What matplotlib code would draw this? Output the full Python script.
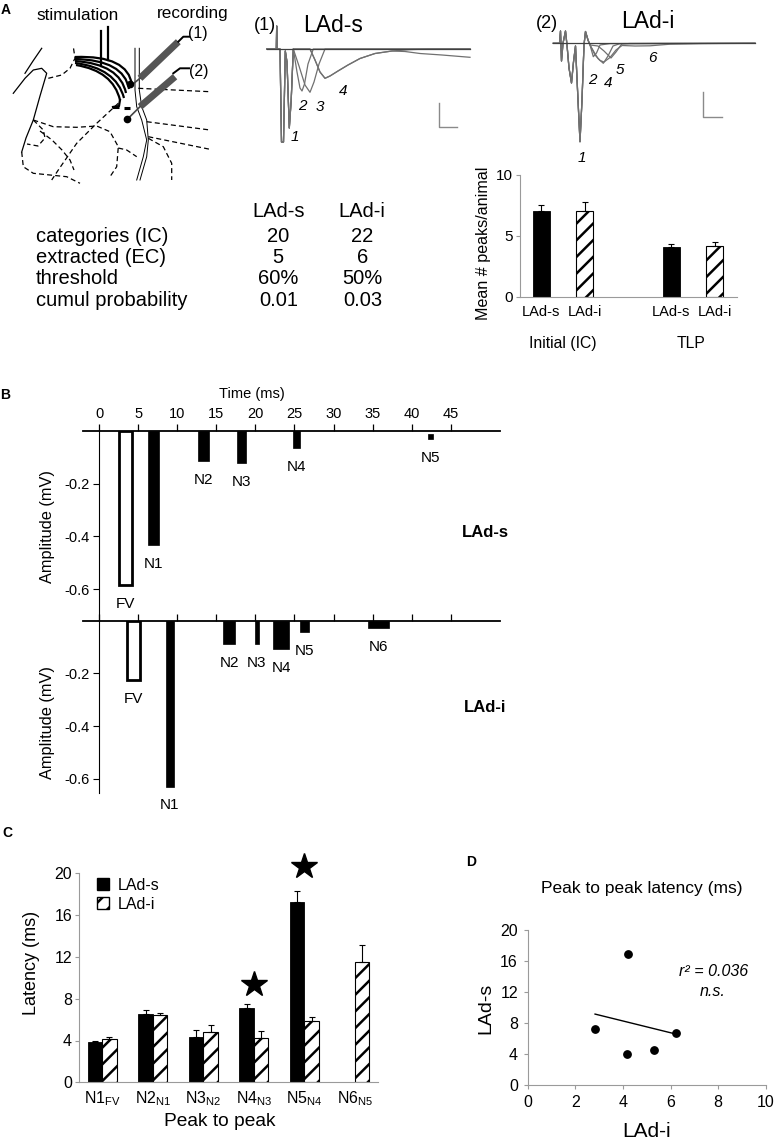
import numpy as np
import matplotlib
matplotlib.use('Agg')
import matplotlib.pyplot as plt
from matplotlib.patches import Patch, PathPatch
from matplotlib.path import Path
from matplotlib import font_manager

plt.rcParams['font.family'] = ['Liberation Sans', 'DejaVu Sans']
plt.rcParams['axes.unicode_minus'] = False
plt.rcParams['mathtext.fontset'] = 'custom'
plt.rcParams['mathtext.rm'] = 'Liberation Sans'
plt.rcParams['mathtext.it'] = 'Liberation Sans:italic'
plt.rcParams['mathtext.bf'] = 'Liberation Sans:bold'
plt.rcParams['hatch.linewidth'] = 1.8
plt.rcParams['hatch.color'] = 'black'

_names = {f.name for f in font_manager.fontManager.ttflist}
NARROW = 'Liberation Sans Narrow' if 'Liberation Sans Narrow' in _names else 'Liberation Sans'
BSIZE = 11.5 if NARROW == 'Liberation Sans Narrow' else 10.5
GREY = '#9a9a9a'

# ---------------- DATA ----------------
# Panel A table
table_rows = ['categories (IC)', 'extracted (EC)', 'threshold', 'cumul probability']
table_cols = ['LAd-s', 'LAd-i']
table_lads = ['20', '5', '60%', '0.01']
table_ladi = ['22', '6', '50%', '0.03']

# Panel A bar chart
peak_groups = ['Initial (IC)', 'TLP']
peaks_lads = [7.05, 4.05]
peaks_lads_err = [0.45, 0.27]
peaks_ladi = [7.05, 4.2]
peaks_ladi_err = [0.75, 0.3]

# Panel B
lads_names = ['FV', 'N1', 'N2', 'N3', 'N4', 'N5']
lads_time = [3.4, 6.95, 13.35, 18.2, 25.3, 42.4]
lads_width = [1.65, 1.4, 1.4, 1.2, 0.9, 0.65]
lads_amp = [-0.585, -0.433, -0.113, -0.123, -0.065, -0.03]
lads_start = [0, 0, 0, 0, 0, -0.012]

ladi_names = ['FV', 'N1', 'N2', 'N3', 'N4', 'N5', 'N6']
ladi_time = [4.43, 9.06, 16.65, 20.2, 23.3, 26.3, 35.7]
ladi_width = [1.7, 1.06, 1.6, 0.47, 2.0, 1.15, 2.7]
ladi_amp = [-0.225, -0.63, -0.09, -0.09, -0.109, -0.042, -0.029]
ladi_start = [0, 0, 0, 0, 0, 0, 0]

time_ticks = list(range(0, 50, 5))
amp_ticks = [-0.6, -0.4, -0.2]

# Panel C
pp_labels = [r'N1$_{\rm FV}$', r'N2$_{\rm N1}$', r'N3$_{\rm N2}$',
             r'N4$_{\rm N3}$', r'N5$_{\rm N4}$', r'N6$_{\rm N5}$']
lat_lads = [3.85, 6.55, 4.35, 7.15, 17.3, np.nan]
lat_lads_err = [0.15, 0.4, 0.65, 0.35, 1.0, np.nan]
lat_ladi = [4.15, 6.4, 4.85, 4.2, 5.9, 11.5]
lat_ladi_err = [0.15, 0.2, 0.65, 0.75, 0.35, 1.6]
sig_groups = [3, 4]
sig_y = [9.4, 20.7]

# Panel D
d_ladi = [2.83, 4.2, 4.16, 5.32, 6.23]
d_lads = [7.18, 16.86, 4.0, 4.52, 6.67]
d_stat_text = ['r\u00b2 = 0.036', 'n.s.']

# Panel A drawings (pixel coordinates of the schematic / traces)
solid_paths = [
    [(41.7, 48.3), (33, 61), (25, 73.3)],
    [(13.3, 93.3), (19, 86), (25, 78.3), (33.3, 70), (41.7, 68.3), (46.7, 73.3),
     (40, 96), (33.3, 120), (26, 138), (21.7, 152)],
]
dashed_paths = [
    [(48.3, 78.3), (61.7, 75), (70, 68.3), (75, 58.3), (73.3, 46.7)],
    [(118.3, 103.3), (96.7, 123.3), (76.7, 143.3), (58.3, 170), (51.7, 180)],
    [(33.3, 120), (53.3, 126.7), (76.7, 127.3), (96.7, 126), (110, 131.7),
     (118.3, 146.7), (116.7, 166.7), (110, 176.7)],
    [(33.3, 120), (43.3, 130), (45, 138), (38, 146), (27, 144)],
    [(40, 131), (52, 140), (62, 150), (70, 160), (74, 170)],
    [(21.7, 152), (23.3, 166.7), (33.3, 173.3), (50, 175), (66.7, 176.7), (80, 183.3)],
    [(148.3, 138.3), (163.3, 146.7), (171.7, 163.3), (171.7, 180)],
    [(118.3, 148), (126.7, 150), (136.7, 156.7)],
    [(138.3, 88.3), (210, 91.7)],
    [(146.7, 121.7), (210, 130)],
    [(148.3, 136.7), (210, 149.3)],
]
capsule_paths = [
    [(135, 48.3), (135, 90), (136.7, 106.7), (141.7, 120), (146.7, 140), (143.3, 156.7), (136.7, 180)],
    [(139.3, 48.3), (139.3, 90), (141.7, 106.7), (146.7, 120), (148.3, 140), (146.7, 156.7), (140, 180)],
]
fibers = [
    [(75, 57), (128, 55), (132, 85)],
    [(75, 59), (124, 60), (129, 89)],
    [(75, 61), (120, 64), (126, 93)],
    [(75, 63), (116, 68), (124, 98)],
    [(76, 65), (113, 71), (120, 100)],
]
fiber_hook = [(120, 100), (119, 106), (113, 107)]
fiber_stubs = [[(112, 106.7), (119, 106.7)], [(124, 108.3), (130, 108.3)]]
stim_wires = [[(101, 31), (101, 66)], [(108.3, 27), (108.3, 60)]]
electrodes = [[(178.3, 41.7), (140, 78.3)], [(175, 76.7), (140, 106.7)]]
electrode_tips = [[(140, 78.3), (131.7, 85)], [(140, 106.7), (128.3, 118.3)]]
leaders = [[(178.3, 41.7), (183.3, 36.7), (189, 36.7)], [(173.3, 73.3), (180, 68.3), (189, 68.3)]]
rec_dots = [(130, 84), (126.7, 119)]

lads_common = [(266.7, 49), (276.3, 49), (276.7, 26), (277.3, 49), (280, 49), (281.5, 142),
               (283.5, 142), (285.3, 51), (287, 62), (289.3, 128), (291.2, 100), (293.3, 49)]
lads_branches = [
    [(293.3, 49), (297, 72), (300, 88), (302, 91), (304.5, 84), (308, 64), (313.3, 49), (470, 49)],
    [(293.3, 49), (299, 66), (305, 85), (310, 92.3), (314, 82), (319, 64), (325, 49), (470, 49)],
    [(293.3, 49), (310, 49), (315, 60), (320, 72), (325, 78.3), (330, 76), (338, 71), (348, 65),
     (360, 58.5), (375, 53.5), (392, 51), (410, 49.6), (430, 49), (470, 49)],
    [(293.3, 49), (310, 49), (315, 60), (320, 72), (325, 78.3), (330, 76), (338, 71), (348, 65),
     (360, 58.5), (375, 53.5), (392, 51), (405, 51.5), (420, 53.5), (442, 55), (470, 57.3)],
]
ladi_common = [(553.3, 43.3), (559.5, 43.3), (560.5, 31), (561.5, 61), (563, 43.3), (565.5, 31),
               (567, 45), (569, 68), (571.5, 83), (573.5, 62), (575.5, 46), (578, 100),
               (580, 141.7), (582, 100), (584, 45), (585.5, 31.5), (588, 40), (590, 45)]
ladi_branches = [
    [(590, 45), (593.3, 56.7), (596.5, 53), (600, 45), (610, 43.6), (755, 43.3)],
    [(590, 45), (594, 52), (598, 58.5), (603.3, 63.3), (608, 56), (613, 46), (620, 43.6), (755, 43.3)],
    [(590, 45), (598, 46), (604, 51), (611, 58), (616, 52), (621.7, 44), (630, 43.5), (755, 43.3)],
    [(590, 45), (595, 55), (600, 60.5), (604, 62), (610, 57.5), (616, 50), (622, 45.5), (635, 46),
     (650, 45.8), (670, 44.2), (700, 43.6), (755, 43.3)],
]
scalebars = [[(439, 103.3), (439, 126.7), (456.7, 126.7)],
             [(703.3, 91.7), (703.3, 116.7), (721.7, 116.7)]]
lads_peak_labels = [('1', 295, 136.7), ('2', 302.3, 105.7), ('3', 320, 106.7), ('4', 343.3, 91)]
ladi_peak_labels = [('1', 581.7, 158.3), ('2', 592.3, 80), ('4', 608.3, 83.3), ('5', 620, 70), ('6', 652.7, 58.3)]

# ---------------- FIGURE ----------------
W, H = 778, 1143
fig = plt.figure(figsize=(W / 100, H / 100), dpi=100)


def fax(x0, y0, x1, y1):
    a = fig.add_axes([x0 / W, 1 - y1 / H, (x1 - x0) / W, (y1 - y0) / H])
    a.set_facecolor('none')
    return a


axd = fig.add_axes([0, 0, 1, 1])
axd.set_xlim(0, W)
axd.set_ylim(H, 0)
axd.axis('off')
axd.set_facecolor('none')


def xy(p):
    a = np.array(p)
    return a[:, 0], a[:, 1]


# --- schematic ---
for p in solid_paths:
    axd.plot(*xy(p), color='black', lw=0.9)
for p in dashed_paths:
    axd.plot(*xy(p), color='black', lw=0.9, ls=(0, (4, 2.5)))
for p in capsule_paths:
    axd.plot(*xy(p), color='black', lw=0.7)
for f in fibers:
    pp = Path(f, [Path.MOVETO, Path.CURVE3, Path.CURVE3])
    axd.add_patch(PathPatch(pp, fc='none', ec='black', lw=1.6))
axd.plot(*xy(fiber_hook), color='black', lw=1.6)
for p in fiber_stubs:
    axd.plot(*xy(p), color='black', lw=2.2, solid_capstyle='butt')
for p in stim_wires:
    axd.plot(*xy(p), color='black', lw=1.6)
for p in electrodes:
    axd.plot(*xy(p), color='#555555', lw=5, solid_capstyle='butt')
for p in electrode_tips:
    axd.plot(*xy(p), color='#444444', lw=1.2)
for p in leaders:
    axd.plot(*xy(p), color='black', lw=1.4)
for (x, y) in rec_dots:
    axd.plot(x, y, 'o', color='black', ms=4.5)

axd.text(6, 10, 'A', fontsize=10, fontweight='bold', ha='center', va='center')
axd.text(77.5, 15, 'stimulation', fontsize=12.3, ha='center', va='center')
axd.text(193, 13.3, 'recording', fontsize=12.3, ha='center', va='center')
axd.text(198.3, 33.3, '(1)', fontsize=11.5, ha='center', va='center')
axd.text(198.3, 71.7, '(2)', fontsize=11.5, ha='center', va='center')

# --- traces ---
for br in lads_branches:
    axd.plot(*xy(lads_common + br), color='#707070', lw=0.9)
axd.plot([266.7, 470], [49, 49], color='#404040', lw=0.9)
for br in ladi_branches:
    axd.plot(*xy(ladi_common + br), color='#707070', lw=0.9)
axd.plot([553.3, 755], [43.3, 43.3], color='#404040', lw=0.9)
for sb in scalebars:
    axd.plot(*xy(sb), color='#8a8a8a', lw=1.0)
for (s, x, y) in lads_peak_labels + ladi_peak_labels:
    axd.text(x, y, s, fontsize=11, style='italic', ha='center', va='center')
axd.text(265, 25, '(1)', fontsize=13, ha='center', va='center')
axd.text(333.3, 25, 'LAd-s', fontsize=16.5, ha='center', va='center')
axd.text(546.7, 23.3, '(2)', fontsize=13, ha='center', va='center')
axd.text(648.3, 21.7, 'LAd-i', fontsize=16.5, ha='center', va='center')

# --- table ---
axd.text(278.3, 216.7, table_cols[0], fontsize=14.5, ha='center', va='baseline')
axd.text(361.7, 216.7, table_cols[1], fontsize=14.5, ha='center', va='baseline')
row_base = [241.5, 263, 284.5, 306]
for i, r in enumerate(table_rows):
    axd.text(36, row_base[i], r, fontsize=14.5, ha='left', va='baseline')
    axd.text(278.3, row_base[i], table_lads[i], fontsize=14.5, ha='center', va='baseline')
    axd.text(362.5, row_base[i], table_ladi[i], fontsize=14.5, ha='center', va='baseline')

# --- bar chart A ---
axA = fax(520, 175, 736.7, 296.7)
pos_s = [0, 3]
pos_i = [1, 4]
axA.bar(pos_s, peaks_lads, 0.4, color='black', edgecolor='black', lw=0.6)
axA.bar(pos_i, peaks_ladi, 0.4, color='white', edgecolor='black', hatch='//', lw=0.8)
axA.errorbar(pos_s, peaks_lads, yerr=[np.zeros(2), peaks_lads_err], fmt='none',
             ecolor='black', elinewidth=0.8, capsize=2, capthick=0.8)
axA.errorbar(pos_i, peaks_ladi, yerr=[np.zeros(2), peaks_ladi_err], fmt='none',
             ecolor='black', elinewidth=0.8, capsize=2, capthick=0.8)
axA.set_xlim(-0.49, 4.51)
axA.set_ylim(0, 10)
axA.set_yticks([0, 5, 10])
axA.set_xticks([])
for s in ['top', 'right']:
    axA.spines[s].set_visible(False)
for s in ['left', 'bottom']:
    axA.spines[s].set_color(GREY)
    axA.spines[s].set_linewidth(0.8)
axA.tick_params(axis='y', length=3, color=GREY, labelsize=11, pad=2)
for p in pos_s:
    axA.text(p, -0.123, table_cols[0], transform=axA.get_xaxis_transform(),
             fontsize=10.5, ha='center', va='center')
for p in pos_i:
    axA.text(p, -0.123, table_cols[1], transform=axA.get_xaxis_transform(),
             fontsize=10.5, ha='center', va='center')
axA.text(0.5, -0.383, peak_groups[0], transform=axA.get_xaxis_transform(),
         fontsize=11.3, ha='center', va='center')
axA.text(3.45, -0.383, peak_groups[1], transform=axA.get_xaxis_transform(),
         fontsize=11.3, ha='center', va='center')
axd.text(484, 243, 'Mean # peaks/animal', fontsize=11.6, rotation=90, ha='center', va='center')

# --- panel B ---
axd.text(5, 395, 'B', fontsize=10, fontweight='bold', ha='center', va='center')
axd.text(252, 394, 'Time (ms)', fontsize=BSIZE, family=NARROW, ha='center', va='center')


def panel_b(box, names, times, widths, amps, starts, ylo, toplabels, tag, tag_y):
    ax = fax(*box)
    heights = [a - s for a, s in zip(amps, starts)]
    for n, t, w, h, s in zip(names, times, widths, heights, starts):
        if n == 'FV':
            ax.bar(t, h, w, bottom=s, color='white', edgecolor='black', lw=2.0, zorder=3)
        else:
            ax.bar(t, h, w, bottom=s, color='black', edgecolor='black', lw=0.5, zorder=3)
    for n, t, a in zip(names, times, amps):
        ax.annotate(n, (t, a), xytext=(0, -13.5), textcoords='offset points',
                    ha='center', va='center', fontsize=BSIZE + 0.5, family=NARROW)
    ax.set_xlim(-2.05, 51.3)
    ax.set_ylim(ylo, 0)
    ax.spines['left'].set_position(('data', 0))
    ax.spines['left'].set_linewidth(0.8)
    ax.spines['top'].set_linewidth(1.3)
    ax.spines['bottom'].set_visible(False)
    ax.spines['right'].set_visible(False)
    ax.xaxis.tick_top()
    ax.set_xticks(time_ticks)
    ax.tick_params(axis='x', direction='out', length=5, width=0.9, pad=2,
                   labeltop=toplabels, labelsize=BSIZE)
    ax.set_yticks(amp_ticks)
    ax.set_yticklabels(['%.1f' % v for v in amp_ticks])
    ax.tick_params(axis='y', direction='out', length=4, width=0.8, pad=3, labelsize=BSIZE)
    for lab in ax.get_xticklabels() + ax.get_yticklabels():
        lab.set_family(NARROW)
    axd.text(485, tag_y, tag, fontsize=12, fontweight='bold', family=NARROW,
             ha='center', va='center')
    return ax


axB1 = panel_b((83, 431, 500, 620.7), lads_names, lads_time, lads_width, lads_amp,
               lads_start, -0.72, True, 'LAd-s', 532.7)
axB2 = panel_b((83, 620.7, 500, 793), ladi_names, ladi_time, ladi_width, ladi_amp,
               ladi_start, -0.654, False, 'LAd-i', 707)
axd.text(48, 527, 'Amplitude (mV)', fontsize=BSIZE + 1.3, family=NARROW, rotation=90, ha='center', va='center')
axd.text(48, 723, 'Amplitude (mV)', fontsize=BSIZE + 1.3, family=NARROW, rotation=90, ha='center', va='center')

# --- panel C ---
axd.text(7, 833, 'C', fontsize=10, fontweight='bold', ha='center', va='center')
axC = fax(79, 873.3, 377.7, 1082.3)
xg = np.arange(len(pp_labels))
bw = 0.285
axC.bar(xg - bw / 2, lat_lads, bw, color='black', edgecolor='black', lw=0.6)
axC.bar(xg + bw / 2, lat_ladi, bw, color='white', edgecolor='black', hatch='//', lw=0.8)
axC.errorbar(xg - bw / 2, lat_lads, yerr=[np.zeros(len(xg)), lat_lads_err], fmt='none',
             ecolor='black', elinewidth=0.8, capsize=2, capthick=0.8)
axC.errorbar(xg + bw / 2, lat_ladi, yerr=[np.zeros(len(xg)), lat_ladi_err], fmt='none',
             ecolor='black', elinewidth=0.8, capsize=2, capthick=0.8)
axC.plot(xg[sig_groups], sig_y, ls='none', marker='*', ms=19, color='black', clip_on=False)
axC.set_xlim(-0.46, 5.45)
axC.set_ylim(0, 20)
axC.set_yticks(range(0, 21, 4))
axC.set_xticks(xg)
axC.set_xticklabels(pp_labels)
for s in ['top', 'right']:
    axC.spines[s].set_visible(False)
for s in ['left', 'bottom']:
    axC.spines[s].set_color(GREY)
    axC.spines[s].set_linewidth(0.8)
axC.tick_params(axis='y', length=3, color=GREY, labelsize=11.5, pad=2)
axC.tick_params(axis='x', length=0, labelsize=11.5, pad=5)
handles = [Patch(facecolor='black', edgecolor='black'),
           Patch(facecolor='white', edgecolor='black', hatch='//')]
axC.legend(handles, table_cols, loc='upper left', bbox_to_anchor=(0.04, 1.01), frameon=False,
           handlelength=0.75, handleheight=0.75, handletextpad=0.5, labelspacing=0.25,
           fontsize=11.5, borderaxespad=0)
axd.text(31.7, 963, 'Latency (ms)', fontsize=13, rotation=90, ha='center', va='center')
axd.text(220, 1121.7, 'Peak to peak', fontsize=13.8, ha='center', va='center')

# --- panel D ---
axd.text(471, 862, 'D', fontsize=10, fontweight='bold', ha='center', va='center')
axD = fax(527.7, 930, 765.7, 1085)
axD.plot(d_ladi, d_lads, 'o', color='black', ms=5.3, ls='none')
slope, icpt = np.polyfit(d_ladi, d_lads, 1)
xf = np.array([min(d_ladi), max(d_ladi)])
axD.plot(xf, slope * xf + icpt, color='black', lw=1.0)
axD.set_xlim(0, 10)
axD.set_ylim(0, 20)
axD.set_xticks(range(0, 11, 2))
axD.set_yticks(range(0, 21, 4))
for s in ['top', 'right']:
    axD.spines[s].set_visible(False)
for s in ['left', 'bottom']:
    axD.spines[s].set_color(GREY)
    axD.spines[s].set_linewidth(0.8)
axD.tick_params(length=3, color=GREY, labelsize=11.5, pad=4)
axd.text(641.7, 888.3, 'Peak to peak latency (ms)', fontsize=12.5, ha='center', va='center')
axd.text(713.3, 971.7, d_stat_text[0], fontsize=11.5, style='italic', ha='center', va='center')
axd.text(713, 992, d_stat_text[1], fontsize=11.5, style='italic', ha='center', va='center')
axd.text(486, 1008, 'LAd-s', fontsize=14, rotation=90, ha='center', va='center')
axd.text(646.7, 1131.7, 'LAd-i', fontsize=15, ha='center', va='center')

fig.savefig('out.png', dpi=100)
